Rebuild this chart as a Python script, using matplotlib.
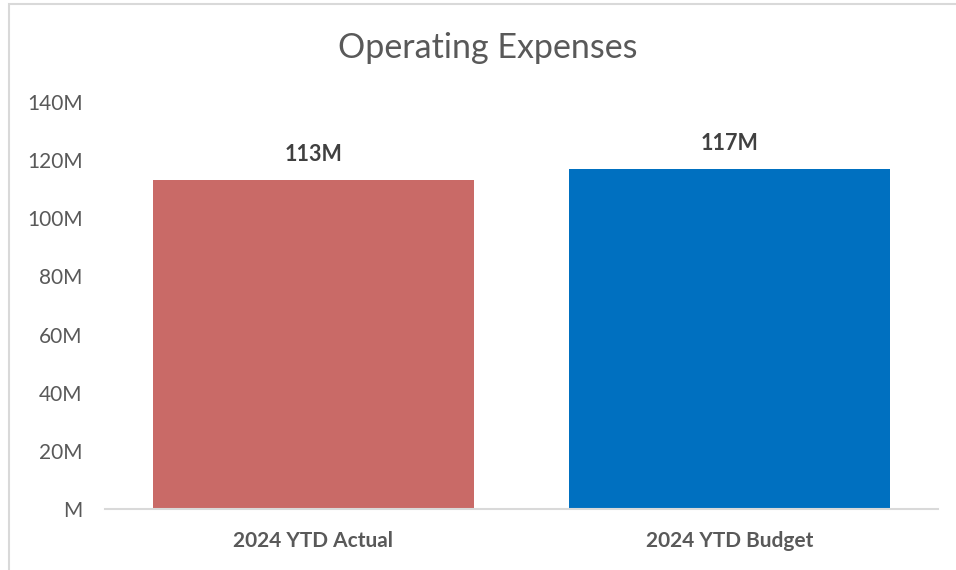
import matplotlib.pyplot as plt
from matplotlib.patches import Rectangle

categories = ["2024 YTD Actual", "2024 YTD Budget"]
values = [113, 117]
labels = ["113M", "117M"]
colors = ["#C96A67", "#0070C0"]
yticks = [0, 20, 40, 60, 80, 100, 120, 140]
ytick_labels = ["M", "20M", "40M", "60M", "80M", "100M", "120M", "140M"]

plt.rcParams['font.family'] = ['Lato', 'DejaVu Sans']
grey = "#595959"

fig = plt.figure(figsize=(9.56, 5.7), dpi=100)
ax = fig.add_axes([105 / 956, 61 / 570, 833 / 956, 407 / 570])

x = range(len(categories))
ax.bar(x, values, width=0.77, color=colors)
for xi, v, lab in zip(x, values, labels):
    ax.annotate(lab, (xi, v), textcoords="offset points", xytext=(0, 11),
                ha="center", va="bottom", fontsize=15.5, fontweight="bold", color="#404040")

ax.set_xlim(-0.5, 1.5)
ax.set_ylim(0, 140)
ax.set_yticks(yticks)
ax.set_yticklabels(ytick_labels, fontsize=15, color=grey)
ax.set_xticks(list(x))
ax.set_xticklabels(categories, fontsize=15, fontweight="bold", color=grey)
ax.tick_params(axis="both", length=0)
ax.tick_params(axis="y", pad=16)
ax.tick_params(axis="x", pad=16)
for s in ["top", "right", "left"]:
    ax.spines[s].set_visible(False)
ax.spines["bottom"].set_color("#D9D9D9")
ax.spines["bottom"].set_linewidth(1.5)

fig.text(488 / 956, 1 - 48 / 570, "Operating Expenses", ha="center", va="center",
         fontsize=24.5, color=grey)

fig.patches.append(Rectangle((9 / 956, -0.1), 1.2, 1 - 4 / 570 + 0.1,
                             transform=fig.transFigure, fill=False,
                             edgecolor="#D9D9D9", linewidth=1.5))

fig.savefig("out.png", dpi=100)
